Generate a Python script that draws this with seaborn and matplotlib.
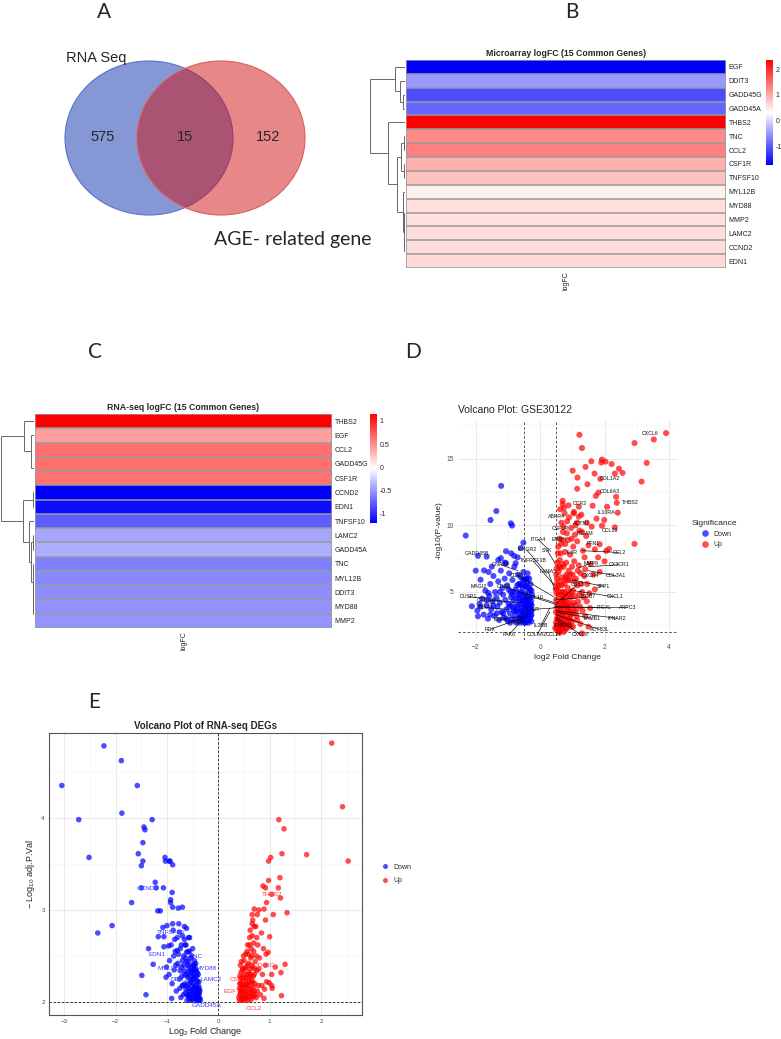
import numpy as np
import pandas as pd
import matplotlib
matplotlib.use('Agg')
import matplotlib.pyplot as plt
import seaborn as sns
from matplotlib.patches import Ellipse
from matplotlib.colors import LinearSegmentedColormap

sns.set_style('white')
plt.rcParams['font.family'] = ['Liberation Sans', 'DejaVu Sans']
plt.rcParams['mathtext.fontset'] = 'custom'
plt.rcParams['mathtext.rm'] = 'Liberation Sans'
plt.rcParams['mathtext.it'] = 'Liberation Sans'

# ---------------- data ----------------
venn_labels = ['RNA Seq', 'AGE- related gene']
venn_counts = [575, 15, 152]

micro_genes = ['EGF', 'DDIT3', 'GADD45G', 'GADD45A', 'THBS2', 'TNC', 'CCL2', 'CSF1R',
               'TNFSF10', 'MYL12B', 'MYD88', 'MMP2', 'LAMC2', 'CCND2', 'EDN1']
micro_logfc = [-1.73, -0.51, -1.12, -0.93, 2.36, 1.25, 1.33, 0.95,
               0.82, 0.43, 0.58, 0.56, 0.60, 0.60, 0.62]
micro_ticks = [-1, 0, 1, 2]

rna_genes = ['THBS2', 'EGF', 'CCL2', 'GADD45G', 'CSF1R', 'CCND2', 'EDN1', 'TNFSF10',
             'LAMC2', 'GADD45A', 'TNC', 'MYL12B', 'DDIT3', 'MYD88', 'MMP2']
rna_logfc = [1.15, 0.41, 0.63, 0.63, 0.62, -1.21, -1.14, -0.78,
             -0.44, -0.40, -0.62, -0.58, -0.55, -0.53, -0.52]
rna_ticks = [-1, -0.5, 0, 0.5, 1]

# volcano D (GSE30122): down-regulated points
d_down_pts = [(-1.21, 12.96), (-1.36, 11.07), (-1.54, 10.40), (-0.91, 10.15), (-0.87, 9.98),
              (-2.31, 9.23), (-0.52, 8.7), (-1.93, 7.71), (-1.06, 8.06), (-1.22, 7.54),
              (-1.06, 7.16), (-0.81, 7.71), (-0.76, 7.16), (-1.66, 7.66), (-1.74, 6.62),
              (-2.0, 6.6), (-1.85, 5.92), (-2.12, 3.93), (-1.93, 3.18), (-1.61, 4.93),
              (-1.95, 3.6), (-1.88, 4.1), (-1.80, 4.5), (-1.75, 3.3), (-1.70, 5.1), (-1.66, 4.0),
              (-1.62, 3.0), (-1.58, 4.7), (-1.55, 5.6), (-1.52, 3.7), (-1.48, 4.3), (-1.45, 6.2),
              (-1.42, 3.2), (-1.40, 5.0), (-1.36, 4.6), (-1.33, 3.9), (-1.30, 5.8), (-1.27, 2.9),
              (-1.25, 4.2), (-1.22, 6.6), (-1.20, 3.5), (-1.17, 5.3), (-1.15, 4.8), (-1.12, 3.1),
              (-1.10, 6.0), (-1.08, 4.4), (-1.05, 3.7), (-1.02, 5.5), (-1.00, 2.8), (-0.98, 4.1),
              (-0.96, 6.4), (-0.94, 3.4), (-0.92, 5.0), (-0.90, 4.6), (-0.88, 3.0), (-0.86, 5.9),
              (-0.84, 3.8), (-0.82, 4.4), (-0.80, 6.9), (-0.78, 3.3), (-0.76, 5.2), (-0.74, 2.7),
              (-0.72, 4.0), (-0.70, 4.8), (-0.68, 3.5), (-0.66, 5.6), (-0.64, 3.1), (-0.62, 4.3),
              (-0.60, 6.1), (-0.58, 2.9), (-0.57, 3.8), (-0.55, 4.6), (-0.54, 5.3), (-0.52, 3.3),
              (-0.51, 4.1), (-0.50, 2.7), (-0.49, 5.9), (-0.48, 3.6), (-0.47, 4.9), (-0.46, 3.0),
              (-0.45, 4.4), (-0.44, 3.9), (-0.43, 5.4), (-0.42, 2.8), (-0.41, 3.4), (-0.40, 4.7),
              (-0.39, 6.4), (-0.38, 3.1), (-0.37, 4.2), (-0.36, 3.7), (-0.35, 5.0), (-0.34, 2.9),
              (-0.33, 4.5), (-0.32, 3.5), (-0.31, 3.9), (-0.30, 5.6), (-0.29, 3.2), (-0.28, 4.3),
              (-0.27, 2.8), (-0.26, 3.6), (-0.25, 4.8), (-0.62, 5.0), (-0.55, 3.1), (-0.45, 3.2),
              (-0.40, 3.0), (-0.35, 3.3), (-0.50, 3.9), (-0.60, 3.6), (-0.70, 3.9), (-0.65, 4.5),
              (-0.53, 4.4), (-0.42, 4.0), (-0.38, 3.8), (-0.30, 4.1), (-0.27, 3.3), (-0.48, 2.9),
              (-0.58, 5.5), (-0.45, 6.0), (-0.36, 5.3), (-1.6, 6.5), (-1.5, 6.9), (-1.3, 7.4),
              (-1.1, 7.2), (-0.9, 7.9), (-0.7, 7.6), (-0.6, 8.3),
              (-1.05, 3.0), (-0.98, 5.2), (-0.93, 2.7), (-0.88, 4.0), (-0.83, 5.0), (-0.79, 2.9),
              (-0.75, 3.6), (-0.71, 5.5), (-0.67, 3.0), (-0.63, 4.8), (-0.59, 4.1), (-0.56, 3.5),
              (-0.53, 5.9), (-0.50, 4.4), (-0.47, 3.3), (-0.44, 4.6), (-0.41, 5.7), (-0.38, 4.4),
              (-0.35, 4.0), (-0.32, 3.0), (-0.29, 4.6), (-0.27, 5.1), (-0.26, 4.0), (-0.31, 5.2),
              (-0.34, 6.0), (-0.40, 6.0), (-0.46, 5.5), (-0.52, 6.5), (-0.57, 4.9), (-0.62, 5.6),
              (-0.68, 6.3), (-0.74, 4.5), (-0.81, 3.6), (-0.86, 4.8), (-0.95, 3.9), (-1.15, 3.4),
              (-1.25, 5.0), (-1.35, 3.4), (-1.45, 4.0), (-1.55, 3.3), (-1.65, 4.4), (-1.85, 3.9),
              (-0.45, 2.7), (-0.36, 2.7), (-0.55, 2.8), (-0.62, 2.7), (-0.30, 3.7), (-0.39, 3.6),
              (-0.49, 3.3), (-0.59, 3.2)]
# volcano D: up-regulated points
d_up_pts = [(3.91, 16.92), (3.53, 16.44), (2.93, 16.17), (1.22, 16.79), (1.30, 15.80), (3.31, 14.68),
            (1.92, 14.93), (1.90, 14.71), (2.03, 14.78), (2.22, 14.6), (2.45, 14.25), (2.56, 13.93),
            (2.32, 13.88), (1.59, 14.8), (1.41, 14.38), (1.01, 14.1), (1.16, 13.58), (1.69, 13.88),
            (1.47, 13.08), (1.87, 13.48), (3.15, 13.28), (1.15, 12.74), (1.73, 12.21), (1.81, 12.46),
            (2.36, 12.14), (2.38, 11.69), (2.41, 10.95), (2.93, 8.61), (2.08, 11.39), (1.63, 11.47),
            (1.04, 10.9), (1.20, 10.65), (1.92, 9.97), (1.99, 10.4), (2.32, 9.85), (2.14, 8.23),
            (2.05, 8.08), (1.85, 8.58), (0.70, 11.84), (0.70, 11.59),
            (0.50, 2.2), (0.52, 3.0), (0.53, 4.1), (0.54, 5.3), (0.55, 2.6), (0.56, 3.6), (0.57, 6.5),
            (0.58, 4.7), (0.59, 2.1), (0.60, 3.3), (0.61, 7.4), (0.62, 5.8), (0.63, 2.9), (0.64, 4.3),
            (0.65, 8.6), (0.66, 3.8), (0.67, 6.1), (0.68, 2.4), (0.69, 5.0), (0.70, 3.1), (0.71, 9.5),
            (0.72, 4.6), (0.73, 6.9), (0.74, 2.7), (0.75, 3.9), (0.76, 5.6), (0.77, 8.0), (0.78, 3.4),
            (0.79, 4.9), (0.80, 2.2), (0.81, 7.2), (0.82, 6.3), (0.83, 4.2), (0.84, 10.3), (0.85, 3.0),
            (0.86, 5.3), (0.87, 8.9), (0.88, 3.7), (0.89, 6.6), (0.90, 2.5), (0.92, 4.5), (0.93, 7.8),
            (0.94, 5.9), (0.95, 3.3), (0.96, 9.8), (0.98, 4.0), (0.99, 6.9), (1.00, 2.8), (1.02, 5.1),
            (1.03, 8.4), (1.05, 3.6), (1.06, 7.3), (1.08, 4.7), (1.10, 10.0), (1.11, 6.0), (1.13, 3.2),
            (1.15, 8.8), (1.16, 5.5), (1.18, 4.3), (1.20, 7.0), (1.22, 9.6), (1.24, 3.9), (1.26, 6.4),
            (1.28, 10.8), (1.30, 5.0), (1.33, 8.1), (1.35, 4.6), (1.38, 7.6), (1.40, 6.7), (1.43, 9.2),
            (1.46, 5.6), (1.50, 8.5), (1.53, 4.9), (1.57, 7.1), (1.60, 9.9), (1.65, 6.3), (1.70, 8.2),
            (1.75, 10.5), (1.80, 7.6), (0.55, 7.9), (0.60, 9.0), (0.52, 6.0), (0.51, 4.9), (0.53, 2.4),
            (0.57, 3.2), (0.62, 2.0), (0.66, 2.6), (0.58, 5.5), (0.63, 6.8), (0.68, 4.1), (0.72, 3.5),
            (0.75, 2.3), (0.78, 5.9), (0.82, 3.9), (0.86, 2.6), (0.90, 4.8), (0.95, 2.4), (1.00, 3.4),
            (0.70, 7.1), (0.76, 10.9), (0.66, 10.2), (0.62, 11.2), (0.88, 11.5), (1.05, 11.0),
            (1.20, 11.4), (0.95, 5.0), (1.10, 4.0), (1.25, 2.6), (1.40, 3.2), (1.55, 3.8), (1.70, 5.2),
            (1.85, 6.5), (2.0, 7.3), (1.5, 2.4), (1.3, 1.9),
            (0.47, 2.3), (0.49, 3.5), (0.50, 4.4), (0.51, 5.6), (0.52, 6.8), (0.54, 3.8), (0.56, 2.9),
            (0.58, 4.0), (0.60, 5.0), (0.61, 2.5), (0.63, 3.6), (0.65, 4.8), (0.67, 5.5), (0.69, 3.2),
            (0.71, 2.6), (0.73, 4.2), (0.75, 5.0), (0.77, 3.0), (0.79, 6.1), (0.81, 4.6), (0.83, 2.8),
            (0.85, 3.9), (0.87, 5.9), (0.89, 4.1), (0.91, 3.1), (0.93, 6.3), (0.97, 4.7), (1.01, 6.3),
            (1.04, 4.2), (1.07, 5.8), (1.12, 3.6), (1.17, 6.6), (1.22, 4.8), (1.27, 5.6), (1.32, 3.6),
            (1.37, 6.2), (1.45, 4.3), (0.48, 5.2), (0.50, 6.3), (0.53, 7.2), (0.56, 8.4), (0.59, 6.9),
            (0.64, 7.9), (0.68, 8.9), (0.72, 9.9), (0.78, 8.6), (0.83, 9.4), (0.90, 10.6), (0.98, 9.0),
            (1.08, 9.3), (1.15, 10.2), (1.30, 9.5), (1.45, 10.2), (0.74, 11.3), (0.49, 2.7), (0.55, 3.3),
            (0.62, 4.0), (0.70, 4.4), (0.76, 4.2), (0.84, 3.5), (0.92, 3.6), (1.02, 2.4), (1.15, 2.9),
            (0.57, 2.0), (0.66, 2.2), (0.73, 2.0), (0.82, 2.3), (0.93, 2.9)]
# labelled genes in D: name, text x, text y, point x, point y
d_lab = [('CXCL6', 3.40, 16.9, 3.40, 16.9), ('COL1A2', 2.15, 13.48, 2.15, 13.48),
         ('COL6A3', 2.17, 12.54, 2.17, 12.54), ('THBS2', 2.80, 11.72, 2.80, 11.72),
         ('CCR2', 1.22, 11.64, 1.22, 11.64), ('IL10RA', 2.06, 11.0, 2.06, 11.0),
         ('ABKR4', 0.52, 10.65, 0.52, 10.65), ('ACTN1', 1.30, 10.17, 1.30, 10.17),
         ('CSF1R', 0.62, 9.75, 0.62, 9.75), ('ITGAM', 1.40, 9.40, 1.40, 9.40),
         ('CCL19', 2.17, 9.60, 2.17, 9.60), ('ITGA4', -0.07, 8.96, 0.25, 8.2),
         ('EMSH', 0.58, 8.96, 0.58, 8.96), ('IFNGR2', -0.42, 8.16, 0.2, 6.4),
         ('SYK', 0.22, 8.13, 0.45, 7.2), ('PFN1', 1.64, 8.61, 1.64, 8.61),
         ('CCL2', 2.45, 7.96, 1.3, 8.1), ('IL6R', 1.0, 7.96, 1.0, 7.96),
         ('GADD45B', -1.95, 7.89, -1.95, 7.89), ('GNA13', -1.22, 7.04, -0.7, 6.6),
         ('TNFRSF1B', -0.22, 7.34, 0.45, 5.5), ('LAMA5', 0.24, 6.57, 0.45, 5.2),
         ('CX3CR1', 2.45, 7.04, 1.5, 6.9), ('MMP9', 1.58, 7.16, 1.2, 6.8),
         ('COL3A1', 2.35, 6.22, 1.5, 6.6), ('CXCR4', 1.56, 6.22, 1.56, 6.22),
         ('CCR5', -0.72, 6.27, 0.45, 4.6), ('CD86', -1.15, 5.42, 0.45, 4.2),
         ('MAGI2', -1.90, 5.42, -1.90, 5.42), ('DUSP1', -2.23, 4.63, -1.7, 4.55),
         ('CXCL1', 2.32, 4.63, 1.05, 5.1), ('ITGB7', 1.48, 4.63, 0.45, 4.4),
         ('SPP1', 1.98, 5.42, 1.0, 5.9), ('CD53', 1.15, 5.55, 0.45, 4.0),
         ('ARPC3', 2.72, 3.83, 0.4, 3.85), ('ITGAL', 2.0, 3.83, 0.45, 3.9),
         ('IFNAR2', 2.39, 3.03, 0.5, 3.6), ('LAMB1', 1.60, 3.03, 0.5, 3.5),
         ('ACTB3L', 1.84, 2.19, 0.5, 3.3), ('CXCL8', 1.24, 1.82, 0.5, 3.1),
         ('CCL21', 0.42, 1.82, 0.42, 1.82), ('COL8A2', -0.09, 1.82, 0.3, 3.5),
         ('IFNGR1', 0.72, 2.51, 0.48, 3.0), ('IL2RB', 0.03, 2.51, 0.3, 3.8),
         ('PAK6', -0.96, 1.82, -0.4, 3.3), ('RDX', -1.56, 2.19, -0.5, 3.1),
         ('PAK4', -0.72, 2.69, -0.72, 2.69), ('IL21R', -0.25, 3.7, 0.45, 3.8),
         ('CXCL10', -0.2, 4.6, 0.45, 4.1), ('GADD45A', -1.6, 4.4, -0.6, 4.2),
         ('ANXA1', -1.70, 3.83, -1.0, 3.7), ('EBF3', -1.25, 2.95, -0.5, 3.2)]

# volcano E (RNA-seq DEGs)
e_down_pts = [(-2.23, 4.78), (-1.89, 4.62), (-3.05, 4.35), (-1.58, 4.35), (-1.88, 4.05), (-2.72, 3.98),
              (-1.29, 3.98), (-1.45, 3.90), (-1.43, 3.87), (-1.47, 3.73), (-2.52, 3.57), (-1.56, 3.61),
              (-1.47, 3.53), (-1.50, 3.48), (-1.04, 3.57), (-1.03, 3.53), (-0.96, 3.53), (-0.94, 3.53),
              (-0.89, 3.49), (-1.23, 3.30), (-1.21, 3.24), (-1.50, 3.24), (-1.07, 3.24), (-0.90, 3.19),
              (-1.69, 3.08), (-0.93, 3.11), (-0.93, 3.08), (-1.18, 2.99), (-1.13, 2.99), (-0.89, 3.03),
              (-0.70, 3.03), (-0.78, 3.02), (-2.07, 2.83), (-2.35, 2.75), (-1.08, 2.81), (-1.00, 2.83),
              (-0.89, 2.85), (-1.17, 2.71), (-1.06, 2.71), (-1.36, 2.58), (-1.06, 2.60), (-0.97, 2.61),
              (-1.27, 2.41), (-1.49, 2.29), (-1.41, 2.08), (-1.01, 2.38), (-0.96, 2.30), (-1.02, 2.27),
              (-0.91, 2.04),
              (-0.95, 2.45), (-0.92, 2.62), (-0.90, 2.20), (-0.88, 2.78), (-0.86, 2.35), (-0.84, 2.55),
              (-0.82, 2.12), (-0.80, 2.70), (-0.79, 2.42), (-0.77, 2.85), (-0.76, 2.25), (-0.74, 2.58),
              (-0.73, 2.05), (-0.72, 2.38), (-0.70, 2.72), (-0.69, 2.18), (-0.68, 2.50), (-0.66, 2.82),
              (-0.65, 2.30), (-0.64, 2.10), (-0.63, 2.62), (-0.62, 2.44), (-0.61, 2.02), (-0.60, 2.27),
              (-0.59, 2.55), (-0.58, 2.15), (-0.57, 2.38), (-0.56, 2.70), (-0.55, 2.08), (-0.54, 2.48),
              (-0.53, 2.22), (-0.52, 2.32), (-0.51, 2.03), (-0.50, 2.58), (-0.49, 2.14), (-0.48, 2.40),
              (-0.47, 2.26), (-0.46, 2.06), (-0.45, 2.35), (-0.44, 2.18), (-0.43, 2.10), (-0.42, 2.28),
              (-0.41, 2.02), (-0.40, 2.15), (-0.39, 2.08), (-0.38, 2.22), (-0.37, 2.04), (-0.36, 2.12),
              (-0.62, 2.18), (-0.57, 2.05), (-0.53, 2.12), (-0.49, 2.30), (-0.46, 2.16), (-0.44, 2.42),
              (-0.41, 2.10), (-0.39, 2.30), (-0.55, 2.28), (-0.60, 2.40), (-0.67, 2.40), (-0.71, 2.28),
              (-0.75, 2.15), (-0.78, 2.52), (-0.85, 2.68), (-0.65, 2.62), (-0.58, 2.70), (-0.52, 2.50),
              (-0.47, 2.45), (-0.43, 2.35), (-0.40, 2.22), (-0.37, 2.14), (-0.50, 2.06), (-0.45, 2.02),
              (-0.55, 2.02), (-0.60, 2.08), (-0.65, 2.20), (-0.70, 2.45), (-0.62, 2.80), (-0.56, 2.55),
              (-0.48, 2.20), (-0.42, 2.05), (-0.38, 2.02),
              (-0.68, 2.08), (-0.66, 2.34), (-0.64, 2.48), (-0.63, 2.14), (-0.61, 2.30), (-0.59, 2.07),
              (-0.58, 2.33), (-0.57, 2.20), (-0.56, 2.12), (-0.54, 2.35), (-0.53, 2.04), (-0.52, 2.17),
              (-0.51, 2.40), (-0.50, 2.25), (-0.49, 2.08), (-0.48, 2.12), (-0.47, 2.36), (-0.46, 2.28),
              (-0.45, 2.10), (-0.44, 2.04), (-0.43, 2.24), (-0.42, 2.15), (-0.41, 2.32), (-0.40, 2.06),
              (-0.39, 2.12), (-0.38, 2.17), (-0.37, 2.09), (-0.36, 2.04), (-0.35, 2.02), (-0.54, 2.24),
              (-0.50, 2.34), (-0.46, 2.40), (-0.58, 2.44), (-0.62, 2.54), (-0.66, 2.68), (-0.72, 2.62),
              (-0.76, 2.76), (-0.80, 2.56), (-0.83, 2.40), (-0.87, 2.50), (-0.74, 2.34), (-0.70, 2.18)]
e_up_pts = [(2.21, 4.81), (2.42, 4.12), (2.53, 3.53), (1.72, 3.60), (1.18, 3.98), (1.28, 3.88),
            (1.24, 3.61), (1.02, 3.57), (0.98, 3.53), (1.20, 3.35), (0.98, 3.32), (0.87, 3.26),
            (0.92, 3.24), (1.17, 3.24), (1.04, 3.17), (1.21, 3.13), (0.94, 3.08), (0.70, 3.01),
            (0.79, 3.00), (0.89, 3.01), (1.07, 2.95), (1.34, 2.97), (0.66, 2.95), (0.76, 2.95),
            (0.67, 2.89), (0.92, 2.89), (1.00, 2.71), (0.97, 2.54), (0.93, 2.52), (1.30, 2.41),
            (1.11, 2.38), (1.22, 2.32), (1.04, 2.30), (0.99, 2.21), (1.04, 2.18), (1.05, 2.15),
            (1.23, 2.07), (0.89, 2.04),
            (0.40, 2.05), (0.41, 2.15), (0.42, 2.28), (0.43, 2.40), (0.44, 2.10), (0.45, 2.02),
            (0.46, 2.22), (0.47, 2.35), (0.48, 2.08), (0.49, 2.18), (0.50, 2.45), (0.51, 2.30),
            (0.52, 2.04), (0.53, 2.12), (0.54, 2.38), (0.55, 2.25), (0.56, 2.55), (0.57, 2.06),
            (0.58, 2.18), (0.59, 2.42), (0.60, 2.32), (0.61, 2.62), (0.62, 2.10), (0.63, 2.48),
            (0.64, 2.03), (0.65, 2.20), (0.66, 2.72), (0.67, 2.38), (0.68, 2.28), (0.69, 2.55),
            (0.70, 2.12), (0.72, 2.44), (0.73, 2.82), (0.74, 2.05), (0.75, 2.34), (0.77, 2.62),
            (0.78, 2.18), (0.80, 2.48), (0.82, 2.08), (0.84, 2.75), (0.86, 2.30), (0.88, 2.58),
            (0.90, 2.14), (0.92, 2.40), (0.94, 2.22), (0.42, 2.08), (0.44, 2.32), (0.46, 2.12),
            (0.48, 2.26), (0.50, 2.02), (0.52, 2.20), (0.54, 2.08), (0.56, 2.30), (0.58, 2.02),
            (0.60, 2.14), (0.62, 2.36), (0.64, 2.24), (0.66, 2.06), (0.68, 2.16), (0.70, 2.30),
            (0.72, 2.08), (0.43, 2.20), (0.47, 2.05), (0.51, 2.12), (0.55, 2.16), (0.59, 2.26),
            (0.63, 2.30), (0.67, 2.10), (0.71, 2.20), (0.76, 2.12), (0.66, 2.85), (0.62, 2.78),
            (0.70, 2.82), (0.64, 2.58), (0.58, 2.52), (0.75, 2.70),
            (0.41, 2.02), (0.42, 2.20), (0.43, 2.12), (0.44, 2.26), (0.45, 2.16), (0.46, 2.04),
            (0.47, 2.18), (0.48, 2.36), (0.49, 2.10), (0.50, 2.26), (0.51, 2.04), (0.52, 2.36),
            (0.53, 2.26), (0.54, 2.18), (0.55, 2.04), (0.56, 2.20), (0.57, 2.40), (0.58, 2.10),
            (0.60, 2.22), (0.61, 2.06), (0.62, 2.28), (0.64, 2.14), (0.65, 2.40), (0.67, 2.22),
            (0.69, 2.06), (0.71, 2.36), (0.45, 2.44), (0.49, 2.50), (0.53, 2.52), (0.57, 2.62),
            (0.61, 2.70), (0.65, 2.50), (0.69, 2.64), (0.74, 2.50), (0.79, 2.36), (0.85, 2.18)]
e_lab = [('CCND2', -1.37, 3.23, 'Down'), ('TNFSF10', -0.92, 2.76, 'Down'), ('EDN1', -1.20, 2.52, 'Down'),
         ('TNC', -0.43, 2.49, 'Down'), ('MYD88', -0.23, 2.36, 'Down'), ('MYL12B', -0.95, 2.36, 'Down'),
         ('DDIT3', -0.76, 2.24, 'Down'), ('LAMC2', -0.14, 2.24, 'Down'), ('GADD45A', -0.23, 1.96, 'Down'),
         ('THBS2', 1.04, 3.17, 'Up'), ('GADD45G', 0.81, 2.40, 'Up'), ('CSF1R', 0.42, 2.24, 'Up'),
         ('EGF', 0.22, 2.11, 'Up'), ('CCL2', 0.69, 1.93, 'Up')]

# ---------------- layout helpers ----------------
W, H = 781, 1039
fig = plt.figure(figsize=(W / 100, H / 100), dpi=100)


def rect(x0, y0, x1, y1):
    return [x0 / W, 1 - y1 / H, (x1 - x0) / W, (y1 - y0) / H]


bg = fig.add_axes([0, 0, 1, 1], zorder=-5)
bg.set_xlim(0, W)
bg.set_ylim(H, 0)
bg.axis('off')

# panel letters
for letter, (px, py) in zip('ABCDE', [(104, 12), (572, 12), (95, 352), (413, 352), (94, 702)]):
    bg.text(px, py, letter, fontsize=15, family=['Lato', 'DejaVu Sans'], ha='center', va='center')

# ---------------- A: Venn ----------------
bg.add_patch(Ellipse((149, 138), 168, 154, facecolor='#0f31ad', alpha=0.5, edgecolor='none'))
bg.add_patch(Ellipse((149, 138), 168, 154, facecolor='none', edgecolor='#5a72c8', lw=0.8))
bg.add_patch(Ellipse((221, 138), 168, 154, facecolor='#d11111', alpha=0.5, edgecolor='none'))
bg.add_patch(Ellipse((221, 138), 168, 154, facecolor='none', edgecolor='#d96060', lw=0.8))
for cnt, px in zip(venn_counts, [103, 185, 268]):
    bg.text(px, 137, str(cnt), fontsize=10.5, ha='center', va='center')
bg.text(66, 58, venn_labels[0], fontsize=10.5, ha='left', va='center')
bg.text(214, 240, venn_labels[1], fontsize=14, family=['Lato', 'DejaVu Sans'], ha='left', va='center')

# ---------------- heatmaps ----------------
cmap = LinearSegmentedColormap.from_list('bwr3', ['#0000FF', '#FFFFFF', '#FF0000'])


def cluster_segments(vals):
    """complete-linkage clustering on 1 column, returns dendrogram segments"""
    n = len(vals)
    members = {i: [i] for i in range(n)}
    pos = {i: i + 0.5 for i in range(n)}
    hgt = {i: 0.0 for i in range(n)}
    segs = []
    nid = n
    while len(members) > 1:
        keys = list(members)
        best = None
        for a in range(len(keys)):
            for b in range(a + 1, len(keys)):
                d = max(abs(vals[i] - vals[j]) for i in members[keys[a]] for j in members[keys[b]])
                if best is None or d < best[0] - 1e-12:
                    best = (d, keys[a], keys[b])
        d, a, b = best
        segs.append(([hgt[a], d], [pos[a], pos[a]]))
        segs.append(([hgt[b], d], [pos[b], pos[b]]))
        segs.append(([d, d], [pos[a], pos[b]]))
        members[nid] = members.pop(a) + members.pop(b)
        pos[nid] = (pos[a] + pos[b]) / 2
        hgt[nid] = d
        nid += 1
    return segs, d


def draw_heatmap(genes, vals, ticks, title, hm_box, dn_box, cb_box):
    ax = fig.add_axes(rect(*hm_box))
    cax = fig.add_axes(rect(*cb_box))
    df = pd.DataFrame({'logFC': vals}, index=genes)
    sns.heatmap(df, ax=ax, cmap=cmap, vmin=min(vals), vmax=max(vals), cbar_ax=cax,
                linewidths=0, xticklabels=True, yticklabels=True)
    # grey60 cell borders like pheatmap
    for k in range(len(vals) + 1):
        ax.axhline(k, color='#9a9a9a', lw=1.1, zorder=3)
    ax.axvline(0, color='#9a9a9a', lw=1.1, zorder=3)
    ax.axvline(1, color='#9a9a9a', lw=1.1, zorder=3)
    ax.yaxis.tick_right()
    ax.set_yticklabels(genes, rotation=0, fontsize=5, color='#222222')
    ax.set_xticklabels(['logFC'], rotation=90, fontsize=5, color='#222222')
    ax.tick_params(length=0, pad=2)
    ax.set_ylabel('')
    ax.set_title(title, fontsize=6.3, fontweight='bold', pad=3)
    cb = ax.collections[0].colorbar
    cb.outline.set_visible(False)
    cb.set_ticks(ticks)
    cb.set_ticklabels([f'{t:g}' for t in ticks])
    cax.tick_params(length=0, labelsize=5, pad=2, colors='#222222')

    dn = fig.add_axes(rect(*dn_box))
    segs, top = cluster_segments(vals)
    for xs, ys in segs:
        dn.plot(xs, ys, color='#666666', lw=0.7, solid_capstyle='butt')
    dn.set_xlim(top, 0)
    dn.set_ylim(len(vals), 0)
    dn.axis('off')


draw_heatmap(micro_genes, micro_logfc, micro_ticks, 'Microarray logFC (15 Common Genes)',
             (406, 60, 726, 268), (370, 60, 405, 268), (766, 60, 773, 165))
draw_heatmap(rna_genes, rna_logfc, rna_ticks, 'RNA-seq logFC (15 Common Genes)',
             (35, 414, 332, 628), (1, 414, 34, 628), (370, 414, 377, 523))

# ---------------- D: volcano GSE30122 ----------------
pal = {'Down': '#0000FF', 'Up': '#FF0000'}
dfd = pd.DataFrame(d_down_pts + d_up_pts, columns=['logFC', 'logP'])
dfd['Significance'] = ['Down'] * len(d_down_pts) + ['Up'] * len(d_up_pts)

axd = fig.add_axes(rect(458, 420, 677, 640))
sns.scatterplot(data=dfd, x='logFC', y='logP', hue='Significance', palette=pal, ax=axd,
                s=19, alpha=0.7, edgecolor='none', zorder=3)
axd.set_xlim(-2.55, 4.25)
axd.set_ylim(1.4, 17.9)
axd.set_xticks([-2, 0, 2, 4])
axd.set_xticks([-1, 1, 3], minor=True)
axd.set_yticks([5, 10, 15])
axd.set_yticks([2.5, 7.5, 12.5, 17.5], minor=True)
axd.grid(which='major', color='#e6e6e6', lw=0.6)
axd.grid(which='minor', color='#f1f1f1', lw=0.4)
axd.set_axisbelow(True)
for s in axd.spines.values():
    s.set_visible(False)
axd.tick_params(which='both', length=0, labelsize=4.8, colors='#4d4d4d', pad=3)
for v in (-0.5, 0.5):
    axd.axvline(v, color='#333333', lw=0.6, ls=(0, (3, 2.5)), zorder=2)
axd.axhline(2, color='#333333', lw=0.6, ls=(0, (3, 2.5)), zorder=2)
axd.set_xlabel('log2 Fold Change', fontsize=6, labelpad=2)
axd.set_ylabel('-log10(P-value)', fontsize=6, labelpad=3)
axd.set_title('Volcano Plot: GSE30122', fontsize=7.5, loc='left', pad=5)
for name, tx, ty, gx, gy in d_lab:
    if (tx, ty) != (gx, gy):
        axd.plot([tx, gx], [ty, gy], color='black', lw=0.45, zorder=4)
    axd.text(tx, ty, name, fontsize=3.8, ha='center', va='center', color='#111111', zorder=5)
sns.move_legend(axd, 'center left', bbox_to_anchor=(1.04, 0.48), frameon=False,
                title='Significance', fontsize=5, title_fontsize=6, markerscale=1.1,
                handletextpad=0.2, labelspacing=0.5)

# ---------------- E: volcano RNA-seq ----------------
dfe = pd.DataFrame(e_down_pts + e_up_pts, columns=['logFC', 'logP'])
dfe['group'] = ['Down'] * len(e_down_pts) + ['Up'] * len(e_up_pts)

axe = fig.add_axes(rect(49, 733, 362, 1015))
sns.scatterplot(data=dfe, x='logFC', y='logP', hue='group', palette=pal, ax=axe,
                s=16, alpha=0.7, edgecolor='none', zorder=3)
axe.set_xlim(-3.3, 2.8)
axe.set_ylim(1.86, 4.92)
axe.set_xticks(range(-3, 3))
axe.set_xticks(np.arange(-2.5, 2.6, 1), minor=True)
axe.set_yticks([2, 3, 4])
axe.set_yticks([2.5, 3.5, 4.5], minor=True)
axe.grid(which='major', color='#e6e6e6', lw=0.6)
axe.grid(which='minor', color='#f3f3f3', lw=0.4)
axe.set_axisbelow(True)
for s in axe.spines.values():
    s.set_color('#555555')
    s.set_linewidth(0.8)
axe.tick_params(which='major', length=2, width=0.5, color='#555555', labelsize=4.5,
                labelcolor='#4d4d4d', pad=1)
axe.tick_params(which='minor', length=0)
axe.axvline(0, color='#222222', lw=0.6, ls=(0, (3, 2)), zorder=2)
axe.axhline(2, color='#222222', lw=0.6, ls=(0, (3, 2)), zorder=2)
axe.set_xlabel('Log$_{2}$ Fold Change', fontsize=6.5, labelpad=0.5)
axe.set_ylabel('$-$ Log$_{10}$ adj.P.Val', fontsize=6.5, labelpad=3)
axe.set_title('Volcano Plot of RNA-seq DEGs', fontsize=7, fontweight='bold', pad=3)
for name, tx, ty, grp in e_lab:
    axe.text(tx, ty, name, fontsize=4.6, ha='center', va='center',
             color='#3a3aff' if grp == 'Down' else '#ff3a3a', zorder=5)
sns.move_legend(axe, 'center left', bbox_to_anchor=(1.03, 0.5), frameon=False,
                title=None, fontsize=5, markerscale=0.9, handletextpad=0.3, labelspacing=0.9)

fig.savefig('out.png', dpi=100)
